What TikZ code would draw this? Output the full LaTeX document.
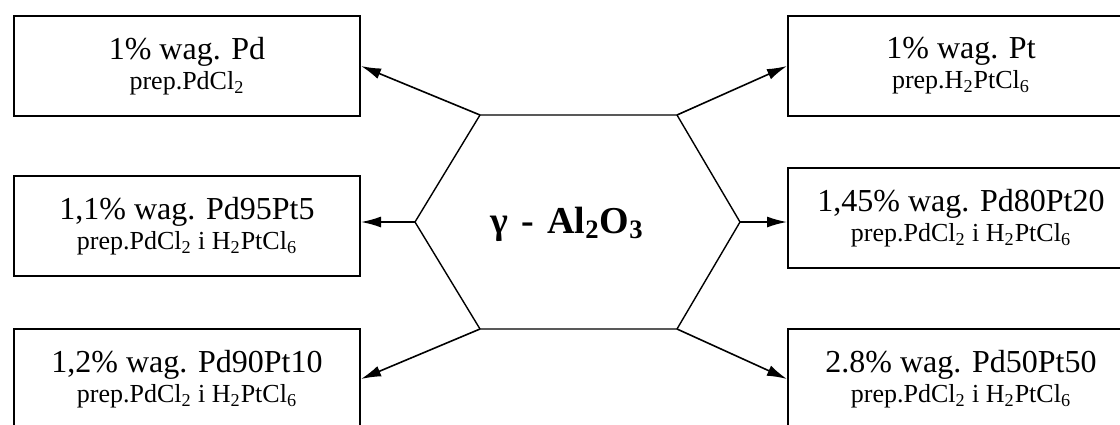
\documentclass[tikz,border=0pt]{standalone}
\usepackage{fontspec}
\setmainfont{Liberation Serif}
\usetikzlibrary{arrows.meta}

\tikzset{
  campione/.style={draw, line width=1pt, minimum width=173pt, minimum height=50pt,
    inner sep=0pt, align=center, font=\fontsize{16}{15}\selectfont},
  freccia/.style={-{Latex[length=10pt,width=5.5pt]}, line width=0.8pt}
}
\newcommand{\prep}[1]{\\{\fontsize{13}{15}\selectfont prep.#1}}

\begin{document}
\begin{tikzpicture}[x=0.5pt, y=-0.5pt]

        \useasboundingbox (0,0) rectangle (1120,424);
        \clip (0,0) rectangle (1120,424);

        % 1. Esagono centrale del supporto
        \coordinate (h1) at (480,115);
        \coordinate (h2) at (677,115);
        \coordinate (h3) at (740,222);
        \coordinate (h4) at (677,329);
        \coordinate (h5) at (480,329);
        \coordinate (h6) at (415,222);
        \draw[line width=0.7pt] (h1) -- (h2) -- (h3) -- (h4) -- (h5) -- (h6) -- cycle;
        \node[font=\fontsize{19}{21}\selectfont\bfseries] (supporto) at (567,224)
          {γ\hspace{0.35em}-\hspace{0.35em}Al\textsubscript{2}O\textsubscript{3}};

        % 2. Campioni a sinistra
        \node[campione] (pd) at (187,66) {1\% wag. Pd\prep{PdCl\textsubscript{2}}};
        \node[campione] (pd95) at (187,226)
          {1,1\% wag. Pd95Pt5\prep{PdCl\textsubscript{2} i H\textsubscript{2}PtCl\textsubscript{6}}};
        \node[campione] (pd90) at (187,379)
          {1,2\% wag. Pd90Pt10\prep{PdCl\textsubscript{2} i H\textsubscript{2}PtCl\textsubscript{6}}};

        % 3. Campioni a destra
        \node[campione] (pt) at (961,66) {1\% wag. Pt\prep{H\textsubscript{2}PtCl\textsubscript{6}}};
        \node[campione] (pd80) at (961,218)
          {1,45\% wag. Pd80Pt20\prep{PdCl\textsubscript{2} i H\textsubscript{2}PtCl\textsubscript{6}}};
        \node[campione] (pd50) at (961,379)
          {2.8\% wag. Pd50Pt50\prep{PdCl\textsubscript{2} i H\textsubscript{2}PtCl\textsubscript{6}}};

        % 4. Frecce dai vertici dell'esagono ai campioni
        \draw[freccia] (h1) -- (pd.east);
        \draw[freccia] (h6) -- (h6 -| pd95.east);
        \draw[freccia] (h5) -- (pd90.east);
        \draw[freccia] (h2) -- (pt.west);
        \draw[freccia] (h3) -- (h3 -| pd80.west);
        \draw[freccia] (h4) -- (pd50.west);

    \end{tikzpicture}
\end{document}
